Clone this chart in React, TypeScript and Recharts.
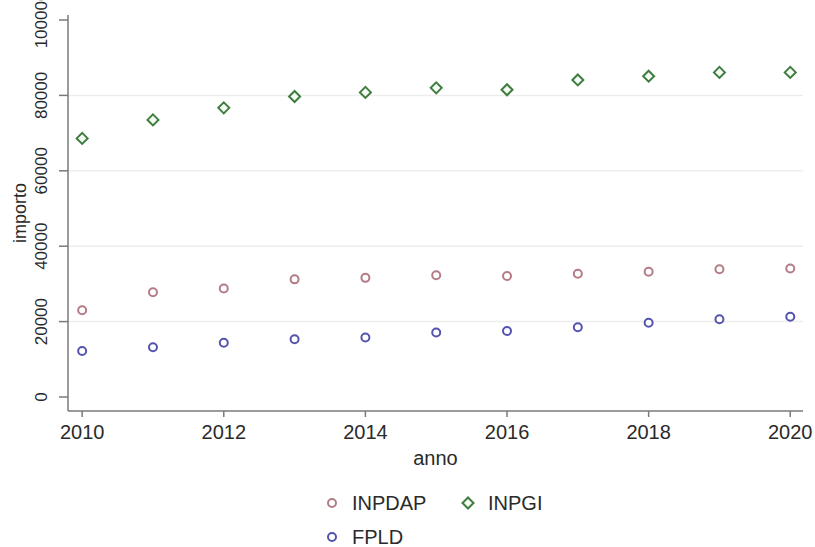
import {
  ScatterChart,
  Scatter,
  XAxis,
  YAxis,
  ReferenceLine,
  Label,
} from "recharts";

const YEARS = [2010, 2011, 2012, 2013, 2014, 2015, 2016, 2017, 2018, 2019, 2020];
const INPDAP = [23000, 27800, 28800, 31200, 31600, 32300, 32100, 32700, 33200, 33900, 34100];
const INPGI = [68600, 73500, 76700, 79700, 80800, 82000, 81500, 84100, 85100, 86100, 86100];
const FPLD = [12200, 13200, 14400, 15300, 15800, 17100, 17500, 18500, 19700, 20600, 21300];

const X_TICKS = [2010, 2012, 2014, 2016, 2018, 2020];
const Y_TICKS = [0, 20000, 40000, 60000, 80000, 100000];
const GRID_VALUES = [20000, 40000, 60000, 80000];

const FONT = "'Liberation Sans', Arial, sans-serif";
const AXIS = "#7a7a7a";
const TEXT = "#2a2a2a";

const COLORS = {
  inpdap: "#b47c86",
  inpgi: "#3f7d3f",
  fpld: "#5454b0",
};

const toPoints = (vals: number[]) => YEARS.map((x, i) => ({ x, y: vals[i] }));

function Circle({ cx, cy, color }: { cx?: number; cy?: number; color: string }) {
  if (cx == null || cy == null) return null;
  return <circle cx={cx} cy={cy} r={4} fill="#fff" stroke={color} strokeWidth={2} />;
}

function Diamond({ cx, cy, color }: { cx?: number; cy?: number; color: string }) {
  if (cx == null || cy == null) return null;
  const s = 5.5;
  return (
    <polygon
      points={`${cx},${cy - s} ${cx + s},${cy} ${cx},${cy + s} ${cx - s},${cy}`}
      fill="#f4fbf4"
      stroke={color}
      strokeWidth={2}
    />
  );
}

function YTick({ x, y, payload }: any) {
  return (
    <g transform={`translate(${x - 10},${y}) rotate(-90)`}>
      <text textAnchor="middle" fontSize={17} fill={TEXT} fontFamily={FONT}>
        {payload.value}
      </text>
    </g>
  );
}

function LegendItem({ label, color, diamond }: { label: string; color: string; diamond?: boolean }) {
  return (
    <div style={{ display: "flex", alignItems: "center", height: 34 }}>
      <svg width={20} height={20} style={{ marginRight: 10 }}>
        {diamond ? (
          <polygon points="10,4.5 15.5,10 10,15.5 4.5,10" fill="#f4fbf4" stroke={color} strokeWidth={2} />
        ) : (
          <circle cx={10} cy={10} r={4} fill="#fff" stroke={color} strokeWidth={2} />
        )}
      </svg>
      <span>{label}</span>
    </div>
  );
}

export default function App() {
  return (
    <div
      style={{
        position: "absolute",
        left: 0,
        top: 0,
        width: 815,
        height: 547,
        background: "#fff",
        fontFamily: FONT,
      }}
    >
      <ScatterChart
        width={815}
        height={547}
        margin={{ top: 15, right: 12, left: 0, bottom: 76 }}
      >
        {GRID_VALUES.map((v) => (
          <ReferenceLine key={v} y={v} stroke="#ededed" strokeWidth={1.5} />
        ))}
        <XAxis
          type="number"
          dataKey="x"
          domain={[2009.8, 2020.18]}
          ticks={X_TICKS}
          allowDataOverflow
          height={60}
          tickSize={6}
          tickMargin={8}
          stroke={AXIS}
          strokeWidth={1.5}
          tick={{ fontSize: 20, fill: TEXT, fontFamily: FONT }}
        >
          <Label
            content={({ viewBox }: any) => (
              <text
                x={viewBox.x + viewBox.width / 2}
                y={viewBox.y + 54}
                textAnchor="middle"
                fontSize={20}
                fill={TEXT}
                fontFamily={FONT}
              >
                anno
              </text>
            )}
          />
        </XAxis>
        <YAxis
          type="number"
          dataKey="y"
          domain={[-3714, 101326]}
          ticks={Y_TICKS}
          allowDataOverflow
          width={68}
          tickSize={9}
          tickMargin={2}
          stroke={AXIS}
          strokeWidth={1.5}
          tick={<YTick />}
        >
          <Label
            content={({ viewBox }: any) => (
              <g transform={`translate(26,${viewBox.y + viewBox.height / 2}) rotate(-90)`}>
                <text textAnchor="middle" fontSize={18} fill={TEXT} fontFamily={FONT}>
                  importo
                </text>
              </g>
            )}
          />
        </YAxis>
        <Scatter
          name="INPDAP"
          data={toPoints(INPDAP)}
          isAnimationActive={false}
          shape={(p: any) => <Circle cx={p.cx} cy={p.cy} color={COLORS.inpdap} />}
        />
        <Scatter
          name="INPGI"
          data={toPoints(INPGI)}
          isAnimationActive={false}
          shape={(p: any) => <Diamond cx={p.cx} cy={p.cy} color={COLORS.inpgi} />}
        />
        <Scatter
          name="FPLD"
          data={toPoints(FPLD)}
          isAnimationActive={false}
          shape={(p: any) => <Circle cx={p.cx} cy={p.cy} color={COLORS.fpld} />}
        />
      </ScatterChart>
      <div
        style={{
          position: "absolute",
          left: 322,
          top: 486,
          fontSize: 20,
          color: TEXT,
          lineHeight: "20px",
        }}
      >
        <div style={{ display: "flex" }}>
          <div style={{ width: 136 }}>
            <LegendItem label="INPDAP" color={COLORS.inpdap} />
          </div>
          <LegendItem label="INPGI" color={COLORS.inpgi} diamond />
        </div>
        <LegendItem label="FPLD" color={COLORS.fpld} />
      </div>
    </div>
  );
}
